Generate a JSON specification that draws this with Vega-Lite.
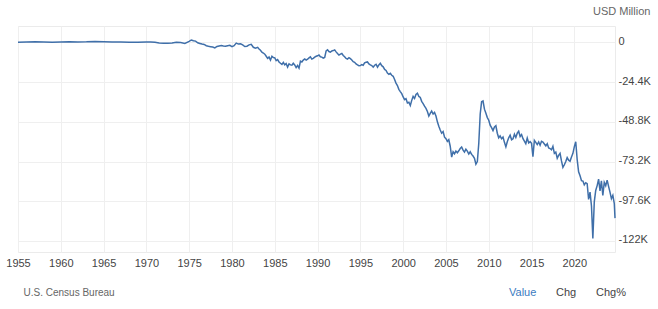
{
  "$schema": "https://vega.github.io/schema/vega-lite/v6.json",
  "width": 597,
  "height": 226,
  "autosize": {"type": "none"},
  "padding": {"left": 18, "top": 26, "right": 43, "bottom": 57},
  "background": "white",
  "config": {
    "font": "Liberation Sans",
    "view": {"stroke": "#ebebeb", "strokeWidth": 1}
  },
  "title": {
    "text": "USD Million",
    "anchor": "end",
    "frame": "bounds",
    "orient": "top",
    "fontSize": 11,
    "fontWeight": "normal",
    "color": "#666666",
    "offset": 9
  },
  "layer": [
    {
      "data": {
        "values": [
          {"d": "1955-01-01", "v": 150}, {"d": "1956-01-01", "v": 250}, {"d": "1957-01-01", "v": 400},
          {"d": "1958-01-01", "v": 200}, {"d": "1959-01-01", "v": 50}, {"d": "1960-01-01", "v": 300},
          {"d": "1961-01-01", "v": 400}, {"d": "1962-01-01", "v": 300}, {"d": "1963-01-01", "v": 350},
          {"d": "1964-01-01", "v": 550}, {"d": "1965-01-01", "v": 400}, {"d": "1966-01-01", "v": 300},
          {"d": "1967-01-01", "v": 300}, {"d": "1968-01-01", "v": 100}, {"d": "1969-01-01", "v": 50},
          {"d": "1970-01-01", "v": 200}, {"d": "1970-07-01", "v": 250}, {"d": "1971-01-01", "v": 50},
          {"d": "1971-07-01", "v": -300}, {"d": "1972-01-01", "v": -500}, {"d": "1972-07-01", "v": -550},
          {"d": "1973-01-01", "v": -300}, {"d": "1973-07-01", "v": 100}, {"d": "1974-01-01", "v": 0},
          {"d": "1974-07-01", "v": -600}, {"d": "1975-01-01", "v": 600}, {"d": "1975-04-01", "v": 1500},
          {"d": "1975-07-01", "v": 1000}, {"d": "1975-10-01", "v": 800}, {"d": "1976-01-01", "v": -200},
          {"d": "1976-04-01", "v": -600}, {"d": "1976-07-01", "v": -1000}, {"d": "1976-10-01", "v": -1200},
          {"d": "1977-01-01", "v": -2000}, {"d": "1977-04-01", "v": -2400}, {"d": "1977-07-01", "v": -2600},
          {"d": "1977-10-01", "v": -2800}, {"d": "1978-01-01", "v": -3400}, {"d": "1978-04-01", "v": -2500},
          {"d": "1978-07-01", "v": -2200}, {"d": "1978-10-01", "v": -1900}, {"d": "1979-01-01", "v": -2200},
          {"d": "1979-04-01", "v": -2400}, {"d": "1979-07-01", "v": -2000}, {"d": "1979-10-01", "v": -1800},
          {"d": "1980-01-01", "v": -2600}, {"d": "1980-04-01", "v": -2000}, {"d": "1980-07-01", "v": -400},
          {"d": "1980-10-01", "v": -1000}, {"d": "1981-01-01", "v": -800}, {"d": "1981-04-01", "v": -1500},
          {"d": "1981-07-01", "v": -2500}, {"d": "1981-10-01", "v": -2300}, {"d": "1982-01-01", "v": -1500},
          {"d": "1982-04-01", "v": -1200}, {"d": "1982-07-01", "v": -3000}, {"d": "1982-10-01", "v": -3500},
          {"d": "1983-01-01", "v": -3000}, {"d": "1983-03-01", "v": -4000}, {"d": "1983-05-01", "v": -4800},
          {"d": "1983-07-01", "v": -6000}, {"d": "1983-09-01", "v": -6500}, {"d": "1983-11-01", "v": -7200},
          {"d": "1984-01-01", "v": -8500}, {"d": "1984-03-01", "v": -9800}, {"d": "1984-05-01", "v": -9000},
          {"d": "1984-07-01", "v": -10800}, {"d": "1984-09-01", "v": -8500}, {"d": "1984-11-01", "v": -9300},
          {"d": "1985-01-01", "v": -9500}, {"d": "1985-03-01", "v": -11200}, {"d": "1985-05-01", "v": -10500},
          {"d": "1985-07-01", "v": -12000}, {"d": "1985-09-01", "v": -12800}, {"d": "1985-11-01", "v": -13500},
          {"d": "1986-01-01", "v": -12300}, {"d": "1986-03-01", "v": -13800}, {"d": "1986-05-01", "v": -13000},
          {"d": "1986-07-01", "v": -15200}, {"d": "1986-09-01", "v": -13200}, {"d": "1986-11-01", "v": -13800},
          {"d": "1987-01-01", "v": -14000}, {"d": "1987-03-01", "v": -12800}, {"d": "1987-05-01", "v": -13800},
          {"d": "1987-07-01", "v": -15500}, {"d": "1987-09-01", "v": -14200}, {"d": "1987-11-01", "v": -15800},
          {"d": "1988-01-01", "v": -11500}, {"d": "1988-03-01", "v": -12000}, {"d": "1988-05-01", "v": -10800},
          {"d": "1988-07-01", "v": -10200}, {"d": "1988-09-01", "v": -10900}, {"d": "1988-11-01", "v": -10300},
          {"d": "1989-01-01", "v": -9500}, {"d": "1989-03-01", "v": -8800}, {"d": "1989-05-01", "v": -10200},
          {"d": "1989-07-01", "v": -9800}, {"d": "1989-09-01", "v": -9000}, {"d": "1989-11-01", "v": -8500},
          {"d": "1990-01-01", "v": -8200}, {"d": "1990-03-01", "v": -7700}, {"d": "1990-05-01", "v": -8800},
          {"d": "1990-07-01", "v": -9000}, {"d": "1990-09-01", "v": -9600}, {"d": "1990-11-01", "v": -9200},
          {"d": "1991-01-01", "v": -5200}, {"d": "1991-03-01", "v": -4500}, {"d": "1991-05-01", "v": -5600},
          {"d": "1991-07-01", "v": -6000}, {"d": "1991-09-01", "v": -5200}, {"d": "1991-11-01", "v": -5000},
          {"d": "1992-01-01", "v": -4600}, {"d": "1992-03-01", "v": -5800}, {"d": "1992-05-01", "v": -6800},
          {"d": "1992-07-01", "v": -7800}, {"d": "1992-09-01", "v": -7200}, {"d": "1992-11-01", "v": -6800},
          {"d": "1993-01-01", "v": -8000}, {"d": "1993-03-01", "v": -8800}, {"d": "1993-05-01", "v": -9800},
          {"d": "1993-07-01", "v": -10200}, {"d": "1993-09-01", "v": -9400}, {"d": "1993-11-01", "v": -10000},
          {"d": "1994-01-01", "v": -10800}, {"d": "1994-03-01", "v": -11800}, {"d": "1994-05-01", "v": -12200},
          {"d": "1994-07-01", "v": -13200}, {"d": "1994-09-01", "v": -13800}, {"d": "1994-11-01", "v": -14300},
          {"d": "1995-01-01", "v": -14200}, {"d": "1995-03-01", "v": -13600}, {"d": "1995-05-01", "v": -14000},
          {"d": "1995-07-01", "v": -12600}, {"d": "1995-09-01", "v": -12200}, {"d": "1995-11-01", "v": -12000},
          {"d": "1996-01-01", "v": -13200}, {"d": "1996-03-01", "v": -13800}, {"d": "1996-05-01", "v": -14200},
          {"d": "1996-07-01", "v": -15200}, {"d": "1996-09-01", "v": -14000}, {"d": "1996-11-01", "v": -13400},
          {"d": "1997-01-01", "v": -15200}, {"d": "1997-03-01", "v": -13800}, {"d": "1997-05-01", "v": -12800},
          {"d": "1997-07-01", "v": -14300}, {"d": "1997-09-01", "v": -15000}, {"d": "1997-11-01", "v": -16600},
          {"d": "1998-01-01", "v": -17200}, {"d": "1998-03-01", "v": -18800}, {"d": "1998-05-01", "v": -19600},
          {"d": "1998-07-01", "v": -19000}, {"d": "1998-09-01", "v": -20200}, {"d": "1998-11-01", "v": -20800},
          {"d": "1999-01-01", "v": -22800}, {"d": "1999-03-01", "v": -25000}, {"d": "1999-05-01", "v": -26500},
          {"d": "1999-07-01", "v": -28800}, {"d": "1999-09-01", "v": -30200}, {"d": "1999-11-01", "v": -31500},
          {"d": "2000-01-01", "v": -33500}, {"d": "2000-03-01", "v": -35200}, {"d": "2000-05-01", "v": -34600},
          {"d": "2000-07-01", "v": -37200}, {"d": "2000-09-01", "v": -36800}, {"d": "2000-11-01", "v": -38800},
          {"d": "2001-01-01", "v": -35600}, {"d": "2001-03-01", "v": -33200}, {"d": "2001-05-01", "v": -34400},
          {"d": "2001-07-01", "v": -32000}, {"d": "2001-09-01", "v": -31200}, {"d": "2001-11-01", "v": -33200},
          {"d": "2002-01-01", "v": -33800}, {"d": "2002-03-01", "v": -36200}, {"d": "2002-05-01", "v": -37600},
          {"d": "2002-07-01", "v": -39200}, {"d": "2002-09-01", "v": -40500}, {"d": "2002-11-01", "v": -42400},
          {"d": "2003-01-01", "v": -45200}, {"d": "2003-03-01", "v": -43600}, {"d": "2003-05-01", "v": -42200},
          {"d": "2003-07-01", "v": -44000}, {"d": "2003-09-01", "v": -43000}, {"d": "2003-11-01", "v": -45200},
          {"d": "2004-01-01", "v": -48800}, {"d": "2004-03-01", "v": -51500}, {"d": "2004-05-01", "v": -53800},
          {"d": "2004-07-01", "v": -55800}, {"d": "2004-09-01", "v": -54800}, {"d": "2004-11-01", "v": -58200},
          {"d": "2005-01-01", "v": -59200}, {"d": "2005-03-01", "v": -60800}, {"d": "2005-05-01", "v": -59800},
          {"d": "2005-07-01", "v": -63800}, {"d": "2005-09-01", "v": -70500}, {"d": "2005-11-01", "v": -67200},
          {"d": "2006-01-01", "v": -68400}, {"d": "2006-03-01", "v": -66800}, {"d": "2006-05-01", "v": -67800},
          {"d": "2006-07-01", "v": -66600}, {"d": "2006-09-01", "v": -65200}, {"d": "2006-11-01", "v": -64300},
          {"d": "2007-01-01", "v": -66200}, {"d": "2007-03-01", "v": -67400}, {"d": "2007-05-01", "v": -65600},
          {"d": "2007-07-01", "v": -66800}, {"d": "2007-09-01", "v": -68600}, {"d": "2007-11-01", "v": -67200},
          {"d": "2008-01-01", "v": -68800}, {"d": "2008-03-01", "v": -69800}, {"d": "2008-05-01", "v": -71200},
          {"d": "2008-07-01", "v": -74800}, {"d": "2008-09-01", "v": -73200}, {"d": "2008-11-01", "v": -62000},
          {"d": "2009-01-01", "v": -44000}, {"d": "2009-03-01", "v": -36500}, {"d": "2009-05-01", "v": -36000},
          {"d": "2009-07-01", "v": -41000}, {"d": "2009-09-01", "v": -43500}, {"d": "2009-11-01", "v": -46200},
          {"d": "2010-01-01", "v": -47800}, {"d": "2010-03-01", "v": -50800}, {"d": "2010-05-01", "v": -52400},
          {"d": "2010-07-01", "v": -54200}, {"d": "2010-09-01", "v": -52000}, {"d": "2010-11-01", "v": -51200},
          {"d": "2011-01-01", "v": -55800}, {"d": "2011-03-01", "v": -58600}, {"d": "2011-05-01", "v": -57400},
          {"d": "2011-07-01", "v": -59200}, {"d": "2011-09-01", "v": -58200}, {"d": "2011-11-01", "v": -61400},
          {"d": "2012-01-01", "v": -64200}, {"d": "2012-03-01", "v": -61000}, {"d": "2012-05-01", "v": -58600},
          {"d": "2012-07-01", "v": -57000}, {"d": "2012-09-01", "v": -59800}, {"d": "2012-11-01", "v": -59200},
          {"d": "2013-01-01", "v": -56400}, {"d": "2013-03-01", "v": -58400}, {"d": "2013-05-01", "v": -55800},
          {"d": "2013-07-01", "v": -54600}, {"d": "2013-09-01", "v": -57800}, {"d": "2013-11-01", "v": -56600},
          {"d": "2014-01-01", "v": -59200}, {"d": "2014-03-01", "v": -60600}, {"d": "2014-05-01", "v": -62200},
          {"d": "2014-07-01", "v": -58800}, {"d": "2014-09-01", "v": -61800}, {"d": "2014-11-01", "v": -61000},
          {"d": "2015-01-01", "v": -62000}, {"d": "2015-03-01", "v": -70200}, {"d": "2015-05-01", "v": -60200},
          {"d": "2015-07-01", "v": -61400}, {"d": "2015-09-01", "v": -62800}, {"d": "2015-11-01", "v": -61200},
          {"d": "2016-01-01", "v": -63200}, {"d": "2016-03-01", "v": -60800}, {"d": "2016-05-01", "v": -61200},
          {"d": "2016-07-01", "v": -62400}, {"d": "2016-09-01", "v": -63600}, {"d": "2016-11-01", "v": -62200},
          {"d": "2017-01-01", "v": -64800}, {"d": "2017-03-01", "v": -65200}, {"d": "2017-05-01", "v": -66000},
          {"d": "2017-07-01", "v": -63800}, {"d": "2017-09-01", "v": -68200}, {"d": "2017-11-01", "v": -67400},
          {"d": "2018-01-01", "v": -71200}, {"d": "2018-03-01", "v": -69400}, {"d": "2018-05-01", "v": -68200},
          {"d": "2018-07-01", "v": -72800}, {"d": "2018-09-01", "v": -76800}, {"d": "2018-11-01", "v": -75200},
          {"d": "2019-01-01", "v": -73200}, {"d": "2019-03-01", "v": -70800}, {"d": "2019-05-01", "v": -72400},
          {"d": "2019-07-01", "v": -73000}, {"d": "2019-09-01", "v": -70400}, {"d": "2019-11-01", "v": -68200},
          {"d": "2020-01-01", "v": -64000}, {"d": "2020-03-01", "v": -61000}, {"d": "2020-05-01", "v": -72000},
          {"d": "2020-07-01", "v": -79500}, {"d": "2020-09-01", "v": -82000}, {"d": "2020-11-01", "v": -85000},
          {"d": "2021-01-01", "v": -85200}, {"d": "2021-03-01", "v": -87500}, {"d": "2021-05-01", "v": -86200},
          {"d": "2021-07-01", "v": -86800}, {"d": "2021-09-01", "v": -96500}, {"d": "2021-11-01", "v": -92000},
          {"d": "2022-01-01", "v": -100500}, {"d": "2022-03-01", "v": -120500}, {"d": "2022-05-01", "v": -98000},
          {"d": "2022-07-01", "v": -91000}, {"d": "2022-09-01", "v": -88000}, {"d": "2022-11-01", "v": -84000},
          {"d": "2023-01-01", "v": -91200}, {"d": "2023-03-01", "v": -85000}, {"d": "2023-05-01", "v": -94000},
          {"d": "2023-07-01", "v": -86000}, {"d": "2023-09-01", "v": -88000}, {"d": "2023-11-01", "v": -84600},
          {"d": "2024-01-01", "v": -88500}, {"d": "2024-03-01", "v": -92000}, {"d": "2024-05-01", "v": -96000},
          {"d": "2024-07-01", "v": -94000}, {"d": "2024-09-01", "v": -99000}, {"d": "2024-10-01", "v": -108000}
        ]
      },
      "mark": {"type": "line", "color": "#3f6fa9", "strokeWidth": 1.5},
      "encoding": {
        "x": {
          "field": "d",
          "type": "temporal",
          "scale": {
            "type": "utc",
            "domain": [{"year": 1955, "month": 1, "date": 1, "utc": true}, {"year": 2024, "month": 10, "date": 1, "utc": true}],
            "nice": false
          },
          "axis": {
            "values": [
              {"year": 1955, "utc": true}, {"year": 1960, "utc": true}, {"year": 1965, "utc": true},
              {"year": 1970, "utc": true}, {"year": 1975, "utc": true}, {"year": 1980, "utc": true},
              {"year": 1985, "utc": true}, {"year": 1990, "utc": true}, {"year": 1995, "utc": true},
              {"year": 2000, "utc": true}, {"year": 2005, "utc": true}, {"year": 2010, "utc": true},
              {"year": 2015, "utc": true}, {"year": 2020, "utc": true}
            ],
            "format": "%Y",
            "formatType": "utc",
            "grid": true,
            "gridColor": "#efefef",
            "ticks": false,
            "domain": false,
            "labelFlush": false,
            "labelFontSize": 11,
            "labelColor": "#444444",
            "labelPadding": 5,
            "title": "U.S. Census Bureau",
            "titleFontSize": 10,
            "titleFontWeight": "normal",
            "titleColor": "#666666",
            "titleAnchor": "start",
            "titleAlign": "left",
            "titleBaseline": "middle",
            "titleX": 5,
            "titleY": 40
          }
        },
        "y": {
          "field": "v",
          "type": "quantitative",
          "scale": {"domain": [-128800, 10100], "nice": false, "zero": false},
          "axis": {
            "orient": "right",
            "values": [0, -24400, -48800, -73200, -97600, -122000],
            "labelExpr": "datum.value == 0 ? '0' : '-' + (abs(datum.value) / 1000) + 'K'",
            "grid": true,
            "gridColor": "#efefef",
            "ticks": false,
            "domain": false,
            "labelPadding": 3,
            "labelFontSize": 11,
            "labelColor": "#444444",
            "labelOffset": -1,
            "title": null
          }
        }
      }
    },
    {
      "data": {"values": [{"o": "Value"}, {"o": "Chg"}, {"o": "Chg%"}]},
      "mark": {"type": "point", "opacity": 0},
      "encoding": {
        "color": {
          "field": "o",
          "type": "nominal",
          "sort": ["Value", "Chg", "Chg%"],
          "scale": {"domain": ["Value", "Chg", "Chg%"], "range": ["#3b7bbf", "#444444", "#444444"]},
          "legend": {
            "orient": "none",
            "legendX": 480,
            "legendY": 261,
            "direction": "horizontal",
            "title": null,
            "symbolSize": 0,
            "symbolOpacity": 0,
            "symbolStrokeWidth": 0,
            "labelOffset": 0,
            "columnPadding": 8,
            "padding": 0,
            "labelFontSize": 11,
            "labelFontWeight": "normal",
            "labelColor": {"expr": "datum.label == 'Value' ? '#3b7bbf' : '#444444'"}
          }
        }
      }
    }
  ]
}
